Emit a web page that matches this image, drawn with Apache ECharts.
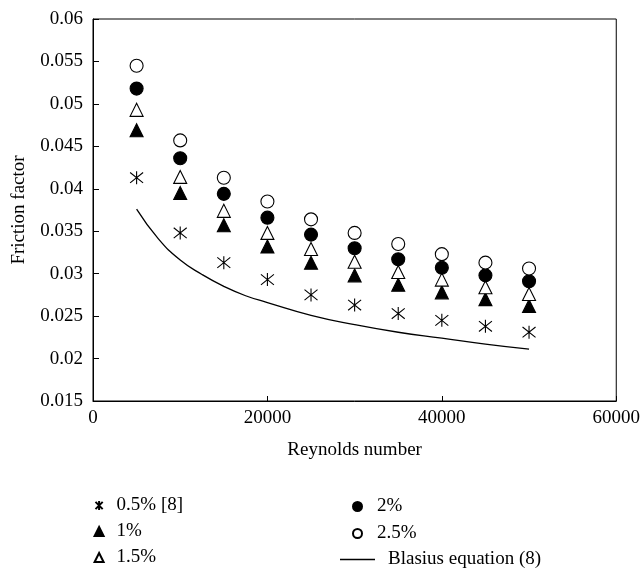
<!DOCTYPE html>
<html>
<head>
<meta charset="utf-8">
<script src="https://cdn.jsdelivr.net/npm/echarts@6/dist/echarts.min.js"></script>
<style>
  html, body { margin: 0; padding: 0; background: #fff; }
  #chart { width: 643px; height: 573px; }
</style>
</head>
<body>
<div id="chart"></div>
<script>
// Reynolds numbers of the measured points
var reynolds = [5000, 10000, 15000, 20000, 25000, 30000, 35000, 40000, 45000, 50000];
// friction factor
var f05 = [0.0413, 0.0348, 0.0313, 0.0293, 0.0275, 0.0263, 0.0253, 0.0245, 0.0238, 0.0231];
var f10 = [0.0469, 0.0395, 0.0357, 0.0332, 0.0313, 0.0298, 0.0287, 0.0278, 0.0270, 0.0262];
var f15 = [0.0493, 0.0414, 0.0374, 0.0348, 0.0329, 0.0314, 0.0302, 0.0293, 0.0284, 0.0276];
var f20 = [0.0518, 0.0436, 0.0394, 0.0366, 0.0346, 0.0330, 0.0317, 0.0307, 0.0298, 0.0291];
var f25 = [0.0545, 0.0457, 0.0413, 0.0385, 0.0364, 0.0348, 0.0335, 0.0323, 0.0313, 0.0306];
// Blasius curve, read at a few points
var blasiusRe = [5000, 7500, 10000, 12500, 15000, 17500, 20000, 25000, 30000, 35000, 40000, 45000, 50000];
var blasiusF = [0.0376, 0.0341, 0.0316, 0.0299, 0.0285, 0.0274, 0.0266, 0.0251, 0.0240, 0.0231, 0.0224, 0.0217, 0.0211];

var names = ['0.5% [8]', '1%', '1.5%', '2%', '2.5%', 'Blasius equation (8)'];
var xTicks = [0, 20000, 40000, 60000];
var yTicks = [0.015, 0.06, 0.005]; // min, max, step

var font = 'Liberation Serif';
var star = 'path://M0,-10 L0,10 M-8,-8 L8,8 M-8,8 L8,-8';

function pairs(xs, ys) {
  var out = [];
  for (var i = 0; i < xs.length; i++) out.push([xs[i], ys[i]]);
  return out;
}

function pointSeries(name, ys, symbol, fill, size) {
  return {
    name: name,
    type: 'scatter',
    data: pairs(reynolds, ys),
    symbol: symbol,
    symbolSize: size,
    itemStyle: { color: fill, borderColor: '#000', borderWidth: 1.1, opacity: 1 },
    z: 3
  };
}

var legendText = { fontFamily: font, fontSize: 19, color: '#000' };

var chart = echarts.init(document.getElementById('chart'));
chart.setOption({
  animation: false,
  backgroundColor: '#fff',
  textStyle: { fontFamily: font, color: '#000' },
  grid: { left: 93, right: 21, top: 19, bottom: 172, show: true, borderColor: '#000', borderWidth: 1 },
  xAxis: {
    type: 'value',
    min: xTicks[0],
    max: xTicks[xTicks.length - 1],
    interval: xTicks[1] - xTicks[0],
    name: 'Reynolds number',
    nameLocation: 'middle',
    nameGap: 40,
    nameTextStyle: { fontFamily: font, fontSize: 19, color: '#000' },
    axisLine: { lineStyle: { color: '#000', width: 1 } },
    axisTick: { inside: true, length: 5, lineStyle: { color: '#000' } },
    axisLabel: {
      fontFamily: font, fontSize: 19, color: '#000', margin: 8,
      formatter: function (v) { return String(v); }
    },
    splitLine: { show: false }
  },
  yAxis: {
    type: 'value',
    min: yTicks[0],
    max: yTicks[1],
    interval: yTicks[2],
    name: 'Friction factor',
    nameLocation: 'middle',
    nameGap: 64,
    nameTextStyle: { fontFamily: font, fontSize: 19, color: '#000' },
    axisLine: { show: true, lineStyle: { color: '#000', width: 1 } },
    axisTick: { show: true, inside: true, length: 6, lineStyle: { color: '#000' } },
    axisLabel: {
      fontFamily: font, fontSize: 19, color: '#000', margin: 10,
      formatter: function (v) { return String(+v.toFixed(3)); }
    },
    splitLine: { show: false }
  },
  legend: [
    {
      data: names.slice(0, 3), orient: 'vertical', left: 93, top: 496, padding: 0, height: 90,
      itemWidth: 9, itemHeight: 9, itemGap: 7,
      textStyle: Object.assign({ padding: [0, 0, 0, 8] }, legendText)
    },
    {
      data: names.slice(3, 5), orient: 'vertical', left: 352, top: 497, padding: 0, height: 90,
      itemWidth: 9, itemHeight: 9, itemGap: 8,
      textStyle: Object.assign({ padding: [0, 0, 0, 10] }, legendText)
    },
    {
      data: [{ name: names[5], icon: 'rect' }], orient: 'vertical', left: 340, top: 550, padding: 0,
      itemWidth: 35, itemHeight: 1.3,
      textStyle: Object.assign({ padding: [0, 0, 0, 8] }, legendText)
    }
  ],
  series: [
    pointSeries(names[0], f05, star, 'none', 13),
    pointSeries(names[1], f10, 'triangle', '#000', 13),
    pointSeries(names[2], f15, 'triangle', '#fff', 13),
    pointSeries(names[3], f20, 'circle', '#000', 13),
    pointSeries(names[4], f25, 'circle', '#fff', 13),
    {
      name: names[5],
      type: 'line',
      data: pairs(blasiusRe, blasiusF),
      smooth: true,
      symbol: 'none',
      lineStyle: { color: '#000', width: 1.3 },
      itemStyle: { color: '#000' },
      z: 2
    }
  ]
});
</script>
</body>
</html>
